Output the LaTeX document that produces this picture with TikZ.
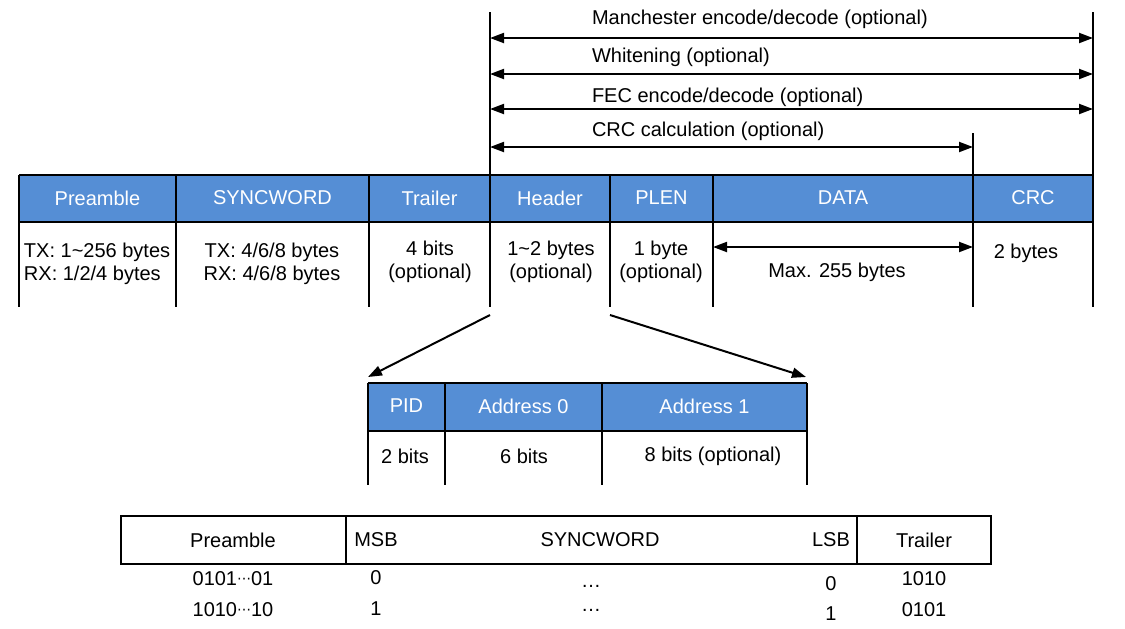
\documentclass[tikz,border=0pt]{standalone}
\usepackage{fontspec}
\setmainfont{Liberation Sans}
\newfontfamily\dotsfont{DejaVu Sans}
\newcommand\middots{\raisebox{1.2pt}{\dotsfont\fontsize{7}{8}\selectfont ⋯}}
\usetikzlibrary{arrows.meta}
\definecolor{hdrblue}{RGB}{85,142,213}

\begin{document}
\begin{tikzpicture}[x=0.5pt, y=-0.5pt, line width=1pt,
  font=\fontsize{10}{12}\selectfont,
  hdr/.style={text=white},
  cell/.style={align=center, font=\fontsize{10}{11.5}\selectfont},
  twoway/.style={{Triangle[length=7pt,width=5pt]}-{Triangle[length=7pt,width=5pt]}},
  oneway/.style={-{Triangle[length=7pt,width=5pt]}}]
  \useasboundingbox (0,0) rectangle (1125,628);

  % packet frame
  \fill [hdrblue] (19,175) rectangle (1093,222);
  \draw (19,175) -- (1093,175);
  \draw (19,222) -- (1093,222);
  \foreach \x in {19,176,369,610,713} \draw (\x,175) -- (\x,307);
  \draw (490,12) -- (490,307);
  \draw (1093,12) -- (1093,307);
  \draw (973,133) -- (973,307);

  \node [hdr] (pre) at (97.5,198) {Preamble};
  \node [hdr] (sync) at (272.5,198) {SYNCWORD};
  \node [hdr] (trl) at (429.5,198) {Trailer};
  \node [hdr] (head) at (550,198) {Header};
  \node [hdr] (plen) at (661.5,198) {PLEN};
  \node [hdr] (data) at (843,198) {DATA};
  \node [hdr] (crc) at (1033,198) {CRC};

  \node [cell, align=left, anchor=west, inner sep=0pt] (prelen) at (23,264) {TX: 1\textasciitilde256 bytes\\RX: 1/2/4 bytes};
  \node [cell] (synclen) at (272,264) {TX: 4/6/8 bytes\\RX: 4/6/8 bytes};
  \node [cell] (trllen) at (430,262) {4 bits\\(optional)};
  \node [cell] (headlen) at (551,262) {1\textasciitilde2 bytes\\(optional)};
  \node [cell] (plenlen) at (661,262) {1 byte\\(optional)};
  \node [cell] (datalen) at (837,272) {Max. 255 bytes};
  \node [cell] (crclen) at (1026,253) {2 bytes};
  \coordinate (dl) at (713,247);
  \coordinate (dr) at (973,247);
  \draw [twoway] (dl) -- (dr);

  % coverage arrows
  \coordinate (man-l) at (490,38);  \coordinate (man-r) at (1093,38);
  \coordinate (wht-l) at (490,74);  \coordinate (wht-r) at (1093,74);
  \coordinate (fec-l) at (490,109); \coordinate (fec-r) at (1093,109);
  \coordinate (crc-l) at (490,147); \coordinate (crc-r) at (973,147);
  \draw [twoway] (man-l) -- (man-r);
  \draw [twoway] (wht-l) -- (wht-r);
  \draw [twoway] (fec-l) -- (fec-r);
  \draw [twoway] (crc-l) -- (crc-r);
  \node [anchor=west, inner sep=0pt] (man) at (591,19) {Manchester encode/decode (optional)};
  \node [anchor=west, inner sep=0pt] (wht) at (591,57) {Whitening (optional)};
  \node [anchor=west, inner sep=0pt] (fec) at (591,97) {FEC encode/decode (optional)};
  \node [anchor=west, inner sep=0pt] (crccalc) at (591,131) {CRC calculation (optional)};

  % header detail
  \coordinate (hl) at (490,315);
  \coordinate (hr) at (610,315);
  \coordinate (sl) at (368,377);
  \coordinate (sr) at (806,377);
  \draw [oneway] (hl) -- (sl);
  \draw [oneway] (hr) -- (sr);

  \fill [hdrblue] (368,383) rectangle (807,431);
  \draw (368,383) -- (807,383);
  \draw (368,431) -- (807,431);
  \foreach \x in {368,445,602,807} \draw (\x,383) -- (\x,485);
  \node [hdr] (pid) at (406.5,406) {PID};
  \node [hdr] (addr0) at (523.5,406) {Address 0};
  \node [hdr] (addr1) at (704.5,406) {Address 1};
  \node (pidlen) at (405,456) {2 bits};
  \node (addr0len) at (524,456) {6 bits};
  \node (addr1len) at (713,456) {8 bits (optional)};

  % bit patterns
  \draw (121,516) rectangle (991,564);
  \draw (346,516) -- (346,564);
  \draw (857,516) -- (857,564);
  \node (bpre) at (233,540) {Preamble};
  \node (bmsb) at (376,540) {MSB};
  \node (bsync) at (600,540) {SYNCWORD};
  \node (blsb) at (831,540) {LSB};
  \node (btrl) at (924,540) {Trailer};
  \node (p0) at (233,579) {0101\middots01};
  \node (p1) at (233,610) {1010\middots10};
  \node (m0) at (376,578) {0};
  \node (m1) at (376,609) {1};
  \node (d0) at (591,586) {\ldots};
  \node (d1) at (591,610) {\ldots};
  \node (l0) at (831,584) {0};
  \node (l1) at (831,614) {1};
  \node (t0) at (924,579) {1010};
  \node (t1) at (924,610) {0101};
\end{tikzpicture}
\end{document}
